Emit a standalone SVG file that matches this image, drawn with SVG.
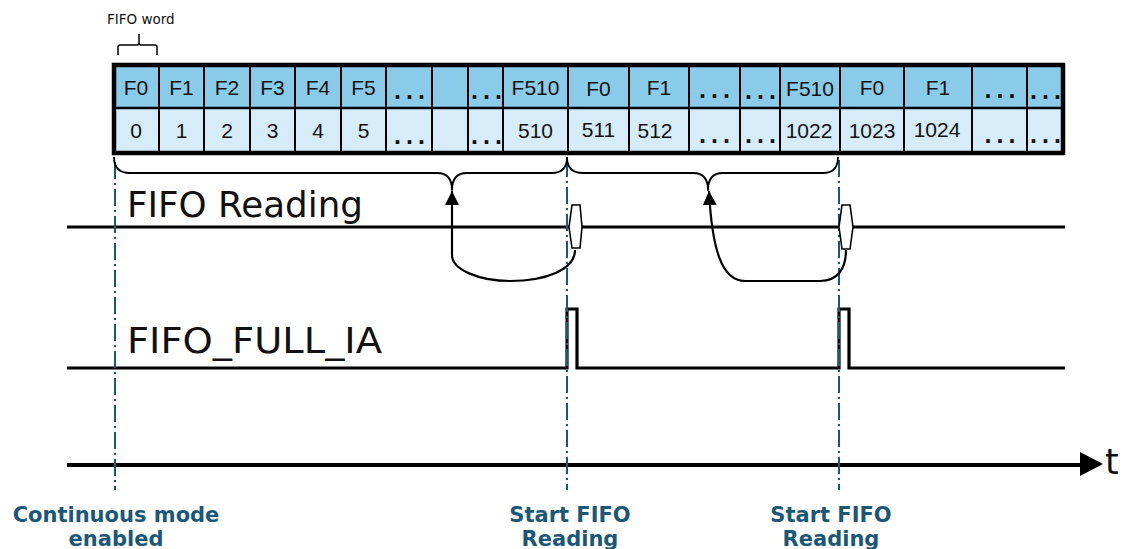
<svg xmlns="http://www.w3.org/2000/svg" width="1128" height="549" viewBox="0 0 1128 549">
<style>
.cell{font-family:"Liberation Sans",Arial,sans-serif;font-size:21px;fill:#111;text-anchor:middle}
.dots{font-family:"Liberation Sans",Arial,sans-serif;font-size:25px;font-weight:bold;fill:#111;letter-spacing:5px}
.big{font-family:"DejaVu Sans",Verdana,sans-serif;font-size:35.5px;fill:#111}
.lbl{font-family:"DejaVu Sans",Verdana,sans-serif;font-weight:bold;font-size:21px;fill:#1b5878;text-anchor:middle}
.ln{fill:none;stroke:#000;stroke-width:1.8;stroke-linejoin:round}
.sig{fill:none;stroke:#000;stroke-width:3.2;stroke-linejoin:miter}
.dd{fill:none;stroke:#1b5878;stroke-width:2;stroke-dasharray:17 4 2 4}
.hd{fill:#8acbea}
.rw{fill:#d6ecf8}
.div{stroke:#000;stroke-width:2}
</style>
<defs>
<marker id="ah" viewBox="0 0 10 10" refX="10" refY="5" markerWidth="14" markerHeight="15" markerUnits="userSpaceOnUse" orient="auto">
<path d="M0,0 L10,5 L0,10 Z" fill="#000"/>
</marker>
</defs>

<g id="fifo-word">
<text x="107" y="24" style="font-family:'DejaVu Sans',Verdana,sans-serif;font-size:13.5px;fill:#111">FIFO word</text>
<path class="ln" d="M118,55 L118,47 Q118,45 120,45 L137,45 Q139,45 139,43 L139,34 M139,43 Q139,45 141,45 L155,45 Q157,45 157,47 L157,55" style="stroke-width:1.5"/>
</g>

<g id="table">
<rect class="hd" x="114" y="65" width="949" height="43"/>
<rect class="rw" x="114" y="108" width="949" height="45"/>
<line class="div" x1="114" y1="108" x2="1063" y2="108" style="stroke-width:2.5"/>
<g class="div">
<line x1="159" y1="65" x2="159" y2="153"/><line x1="204" y1="65" x2="204" y2="153"/>
<line x1="250" y1="65" x2="250" y2="153"/><line x1="295" y1="65" x2="295" y2="153"/>
<line x1="341" y1="65" x2="341" y2="153"/><line x1="386" y1="65" x2="386" y2="153"/>
<line x1="432" y1="65" x2="432" y2="153"/><line x1="468" y1="65" x2="468" y2="153"/>
<line x1="503" y1="65" x2="503" y2="153"/><line x1="568" y1="65" x2="568" y2="153"/>
<line x1="629" y1="65" x2="629" y2="153"/><line x1="689" y1="65" x2="689" y2="153"/>
<line x1="740" y1="65" x2="740" y2="153"/><line x1="780" y1="65" x2="780" y2="153"/>
<line x1="840" y1="65" x2="840" y2="153"/><line x1="904" y1="65" x2="904" y2="153"/>
<line x1="972" y1="65" x2="972" y2="153"/><line x1="1027" y1="65" x2="1027" y2="153"/>
</g>
<rect x="114" y="65" width="949" height="88" fill="none" stroke="#000" stroke-width="4.5"/>
<text class="cell" x="136" y="95">F0</text>
<text class="cell" x="181.5" y="95">F1</text>
<text class="cell" x="227" y="95">F2</text>
<text class="cell" x="272.5" y="95">F3</text>
<text class="cell" x="318" y="95">F4</text>
<text class="cell" x="363.5" y="95">F5</text>
<text class="dots" x="394" y="99">...</text>
<text class="dots" x="471" y="99">...</text>
<text class="cell" x="535.5" y="95">F510</text>
<text class="cell" x="598.5" y="96">F0</text>
<text class="cell" x="659" y="95">F1</text>
<text class="dots" x="699" y="98">...</text>
<text class="dots" x="745" y="99">...</text>
<text class="cell" x="810" y="96">F510</text>
<text class="cell" x="872" y="95">F0</text>
<text class="cell" x="938" y="95">F1</text>
<text class="dots" x="984.5" y="98">...</text>
<text class="dots" x="1030" y="99">...</text>

<text class="cell" x="136" y="138">0</text>
<text class="cell" x="181.5" y="138">1</text>
<text class="cell" x="227" y="138">2</text>
<text class="cell" x="272.5" y="138">3</text>
<text class="cell" x="318" y="138">4</text>
<text class="cell" x="363.5" y="138">5</text>
<text class="dots" x="394" y="144">...</text>
<text class="dots" x="471" y="144">...</text>
<text class="cell" x="535.5" y="138">510</text>
<text class="cell" x="598.5" y="137">511</text>
<text class="cell" x="655" y="138">512</text>
<text class="dots" x="699" y="143">...</text>
<text class="dots" x="745" y="143">...</text>
<text class="cell" x="809" y="138">1022</text>
<text class="cell" x="872" y="138">1023</text>
<text class="cell" x="937" y="137">1024</text>
<text class="dots" x="984.5" y="143">...</text>
<text class="dots" x="1030" y="143">...</text>
</g>

<g id="signal-fifo-reading">
<text class="big" x="127" y="217" textLength="236" lengthAdjust="spacingAndGlyphs">FIFO Reading</text>
<line class="sig" x1="67" y1="227" x2="1065" y2="227"/>
</g>

<g id="signal-fifo-full">
<text class="big" x="127" y="353" textLength="255" lengthAdjust="spacingAndGlyphs">FIFO_FULL_IA</text>
<path class="sig" d="M67,368 L567,368 L567,309 L577,309 L577,368 L839,368 L839,309 L849,309 L849,368 L1065,368"/>
</g>

<g id="time-axis">
<line x1="67" y1="465" x2="1082" y2="465" stroke="#000" stroke-width="4"/>
<path d="M1080,452 L1103,464 L1080,476 Z" fill="#000"/>
<text x="1105" y="474" style="font-family:'DejaVu Sans',Verdana,sans-serif;font-size:35px;fill:#111">t</text>
</g>

<g id="connectors">
<line class="dd" x1="115" y1="162" x2="115" y2="490"/>
<line class="dd" x1="567" y1="160" x2="567" y2="490"/>
<line class="dd" x1="839" y1="160" x2="839" y2="490"/>
<path class="ln" d="M114,157 Q114,173 130,173 L437,173 Q452,173 452,190 Q452,173 467,173 L552,173 Q567,173 567,157"/>
<path class="ln" d="M567,157 Q567,173 583,173 L693,173 Q708,173 708,190 Q708,173 723,173 L823,173 Q838,173 838,157"/>
<path class="ln" d="M575,250 C575,270 545,281 510,281 C480,281 452,270 452,255 L452,191" marker-end="url(#ah)" style="stroke-width:2.2"/>
<path class="ln" d="M846,250 C846,268 838,281 820,281 L745,281 C722,281 712,250 709,191" marker-end="url(#ah)" style="stroke-width:2.2"/>
</g>

<g id="marker-1">
<path d="M572,205 L580,205 L582,227 L580,248 L572,248 L569,227 Z" fill="#fff" stroke="#000" stroke-width="1.6"/>
</g>
<g id="marker-2">
<path d="M842,205 L850,205 L853,227 L850,249 L842,249 L839,227 Z" fill="#fff" stroke="#000" stroke-width="1.6"/>
</g>

<g id="label-continuous">
<text class="lbl" x="116" y="522">Continuous mode</text>
<text class="lbl" x="116" y="546">enabled</text>
</g>
<g id="label-start-1">
<text class="lbl" x="570" y="522">Start FIFO</text>
<text class="lbl" x="570" y="546">Reading</text>
</g>
<g id="label-start-2">
<text class="lbl" x="831" y="522">Start FIFO</text>
<text class="lbl" x="831" y="546">Reading</text>
</g>
</svg>
